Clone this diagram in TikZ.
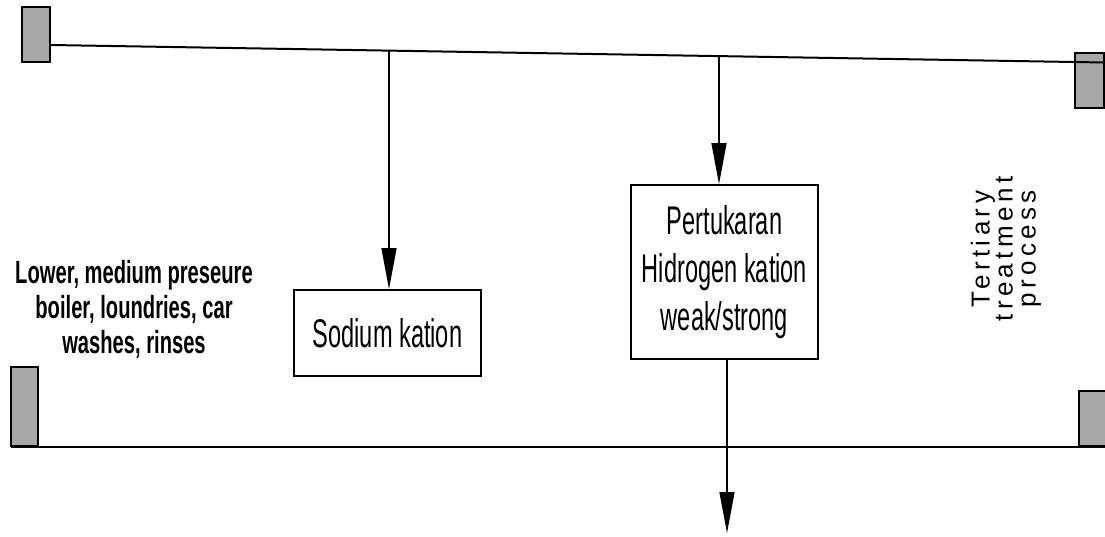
\documentclass[tikz,border=0pt]{standalone}
\usepackage{fontspec}
\setmainfont{Liberation Sans}
\newfontfamily\regfont[FakeStretch=0.59]{Liberation Sans}
\newfontfamily\bnfont[FakeStretch=0.63]{Liberation Sans Bold}
\newfontfamily\spfont[LetterSpace=17]{Liberation Sans}
\usetikzlibrary{arrows.meta}
\begin{document}
\begin{tikzpicture}[x=1pt,y=-1pt,
  pipe/.style={line width=2pt,draw=black},
  tank/.style={draw=black,line width=2pt,fill=black!34},
  procbox/.style={draw=black,line width=1.8pt,fill=white,align=center,inner sep=0pt,
    font=\regfont\fontsize{40}{48}\selectfont},
  flow/.style={line width=1.3pt,-{Triangle[length=41pt,width=15pt]}},
  note/.style={align=center,inner sep=0pt}]
\useasboundingbox (0,0) rectangle (1105,536);
% tanks
\node[tank,minimum width=28pt,minimum height=55pt,inner sep=0pt] (tl) at (36,34.5) {};
\node[tank,minimum width=29pt,minimum height=55pt,inner sep=0pt] (tr) at (1089,80.5) {};
\node[tank,minimum width=27pt,minimum height=79pt,inner sep=0pt] (bl) at (24.5,406.5) {};
\node[tank,minimum width=28pt,minimum height=55pt,inner sep=0pt] (br) at (1093,418.5) {};
% pipes
\coordinate (ts) at (51,45);
\coordinate (te) at (1104,62.5);
\draw[pipe] (ts) -- (te);
\coordinate (bs) at (11,447);
\coordinate (be) at (1105,447);
\draw[pipe] (bs) -- (be);
% boxes
\node[procbox,minimum width=187pt,minimum height=86pt] (na) at (387.5,333) {Sodium kation};
\node[procbox,minimum width=187pt,minimum height=174pt] (hy) at (724.5,272) {Pertukaran\\Hidrogen kation\\weak/strong};
% arrows
\coordinate (t1) at (389,50.6);
\coordinate (t2) at (719,56.1);
\draw[flow] (t1) -- (t1 |- na.north);
\draw[flow] (t2) -- (t2 |- hy.north);
\coordinate (bo) at (727,533);
\draw[flow] (bo |- hy.south) -- (bo);
% texts
\node[note,font=\bnfont\fontsize{32}{35}\selectfont] (lw) at (134,309) {Lower, medium preseure\\boiler, loundries, car\\washes, rinses};
\node[note,rotate=90,font=\spfont\fontsize{26}{23}\selectfont] (tt) at (1006,249) {Tertiary\\treatment\\process};
\end{tikzpicture}
\end{document}
